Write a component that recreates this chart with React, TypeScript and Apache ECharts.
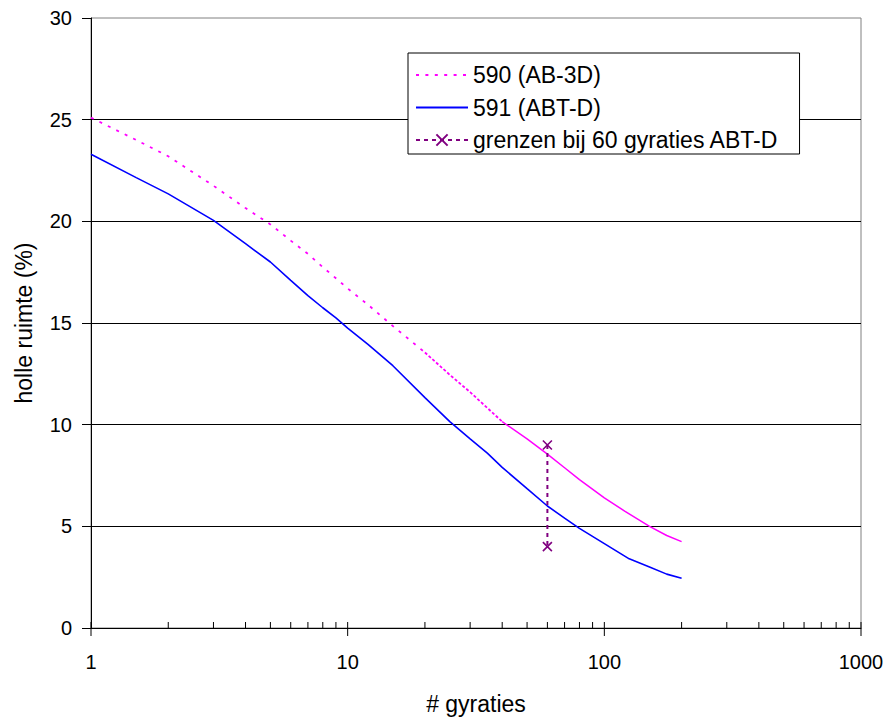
import React, { useEffect, useRef } from 'react';
import * as echarts from 'echarts';

// # gyraties vs holle ruimte (%)
const pinkGyr = [1, 1.5, 2, 3, 4, 5, 6, 7, 8, 9, 10, 12, 15, 20, 25, 30, 40, 50, 60, 70, 80, 100, 120, 150, 175, 200];
const pinkVoid = [25.1, 24.0, 23.2, 21.75, 20.65, 19.85, 19.05, 18.4, 17.75, 17.2, 16.7, 15.9, 14.85, 13.55, 12.45, 11.6, 10.15, 9.3, 8.55, 7.88, 7.3, 6.4, 5.75, 5.0, 4.55, 4.25];

const blueGyr = [1, 1.5, 2, 3, 4, 5, 6, 7, 8, 9, 10, 12, 15, 20, 25, 30, 35, 40, 50, 60, 70, 80, 100, 125, 150, 175, 200];
const blueVoid = [23.3, 22.15, 21.35, 20.05, 18.9, 18.0, 17.1, 16.35, 15.75, 15.25, 14.75, 13.95, 12.9, 11.33, 10.15, 9.3, 8.6, 7.9, 6.85, 6.0, 5.4, 4.9, 4.15, 3.4, 3.0, 2.65, 2.45];

const limitGyr = [60, 60];
const limitVoid = [9, 4];

const minorTickValues = [2, 3, 4, 5, 6, 7, 8, 9, 20, 30, 40, 50, 60, 70, 80, 90, 200, 300, 400, 500, 600, 700, 800, 900];
const majorTickValues = [1, 10, 100, 1000];

const NAME_590 = '590 (AB-3D)';
const NAME_591 = '591 (ABT-D)';
const NAME_LIM = 'grenzen bij 60 gyraties ABT-D';

const FONT = "'Liberation Sans', Arial, sans-serif";
const PINK = '#FF00FF';
const BLUE = '#0000FF';
const PURPLE = '#800080';
const NO_SYMBOL = 'path://M0,0L1,1';

const zip = (xs: number[], ys: number[]) => xs.map((x, i) => [x, ys[i]]);

export default function App() {
  const ref = useRef<HTMLDivElement>(null);
  useEffect(() => {
    if (!ref.current) return;
    const chart = echarts.init(ref.current, undefined, { renderer: 'svg' });
    const pink = zip(pinkGyr, pinkVoid);
    const pinkA = pink.filter((p) => p[0] <= 20);
    const pinkB = pink.filter((p) => p[0] >= 20 && p[0] <= 40);
    const pinkC = pink.filter((p) => p[0] >= 40);
    const tickData = [
      ...minorTickValues.map((v) => [v, 0]),
      ...majorTickValues.map((v) => [v, 1]),
    ];
    chart.setOption({
      animation: false,
      backgroundColor: '#fff',
      grid: {
        left: 91,
        right: 26,
        top: 18,
        bottom: 88,
        show: true,
        borderColor: '#808080',
        borderWidth: 1,
        backgroundColor: 'transparent',
      },
      legend: {
        data: [NAME_590, NAME_591, NAME_LIM],
        orient: 'vertical',
        left: 408,
        top: 53,
        itemWidth: 52,
        itemHeight: 14,
        itemGap: 6.5,
        itemTextGap: 5,
        padding: [9, 21, 1, 7],
        borderColor: '#000',
        borderWidth: 1,
        borderRadius: 0,
        backgroundColor: '#fff',
        selectedMode: false,
        textStyle: { fontSize: 23, fontFamily: FONT, color: '#000', lineHeight: 26 },
      },
      xAxis: {
        type: 'log',
        logBase: 10,
        min: 1,
        max: 1000,
        name: '# gyraties',
        nameLocation: 'middle',
        nameGap: 64,
        nameTextStyle: { fontSize: 23, fontFamily: FONT, color: '#000' },
        axisLine: { show: true, lineStyle: { color: '#000', width: 1 } },
        axisTick: { show: false },
        minorTick: { show: false },
        splitLine: { show: false },
        axisLabel: {
          fontSize: 20,
          fontFamily: FONT,
          color: '#000',
          margin: 24,
          formatter: (v: number) => String(Math.round(v)),
        },
      },
      yAxis: {
        type: 'value',
        min: 0,
        max: 30,
        interval: 5,
        name: 'holle ruimte (%)',
        nameLocation: 'middle',
        nameGap: 56,
        nameTextStyle: { fontSize: 23, fontFamily: FONT, color: '#000' },
        axisLine: { show: true, lineStyle: { color: '#000', width: 1 } },
        axisTick: { show: true, inside: false, length: 9, lineStyle: { color: '#000' } },
        splitLine: { show: true, showMaxLine: false, lineStyle: { color: '#000', width: 1 } },
        axisLabel: { fontSize: 20, fontFamily: FONT, color: '#000', margin: 19 },
      },
      series: [
        {
          type: 'custom',
          name: 'ticks',
          silent: true,
          clip: false,
          z: 5,
          data: tickData,
          encode: { x: 0, y: 1 },
          renderItem: (_params: any, api: any) => {
            const v = api.value(0);
            const major = api.value(1);
            const p = api.coord([v, 0]);
            return {
              type: 'line',
              shape: { x1: p[0], y1: p[1] - 6, x2: p[0], y2: p[1] + (major ? 8 : 0) },
              style: { stroke: '#000', lineWidth: 1 },
            };
          },
        },
        {
          type: 'line',
          name: NAME_590,
          data: pinkA,
          symbol: NO_SYMBOL,
          showSymbol: false,
          itemStyle: { color: PINK },
          lineStyle: { color: PINK, width: 1.8, type: [3, 6.4] },
        },
        {
          type: 'line',
          name: '590b',
          data: pinkB,
          symbol: 'none',
          showSymbol: false,
          itemStyle: { color: PINK },
          lineStyle: { color: PINK, width: 1.8, type: [3, 2] },
        },
        {
          type: 'line',
          name: '590c',
          data: pinkC,
          symbol: 'none',
          showSymbol: false,
          itemStyle: { color: PINK },
          lineStyle: { color: PINK, width: 1.5, type: 'solid' },
        },
        {
          type: 'line',
          name: NAME_591,
          data: zip(blueGyr, blueVoid),
          symbol: NO_SYMBOL,
          showSymbol: false,
          itemStyle: { color: BLUE },
          lineStyle: { color: BLUE, width: 1.6, type: 'solid' },
        },
        {
          type: 'line',
          name: NAME_LIM,
          data: zip(limitGyr, limitVoid),
          symbol: 'path://M0,0L10,10M0,10L10,0',
          symbolSize: 9,
          showSymbol: true,
          itemStyle: { color: 'none', borderColor: PURPLE, borderWidth: 1.6 },
          lineStyle: { color: PURPLE, width: 2, type: [4, 4] },
          z: 6,
        },
      ],
    });
    return () => chart.dispose();
  }, []);
  return (
    <div
      ref={ref}
      style={{ position: 'fixed', left: 0, top: 0, width: 887, height: 720, background: '#fff' }}
    />
  );
}
